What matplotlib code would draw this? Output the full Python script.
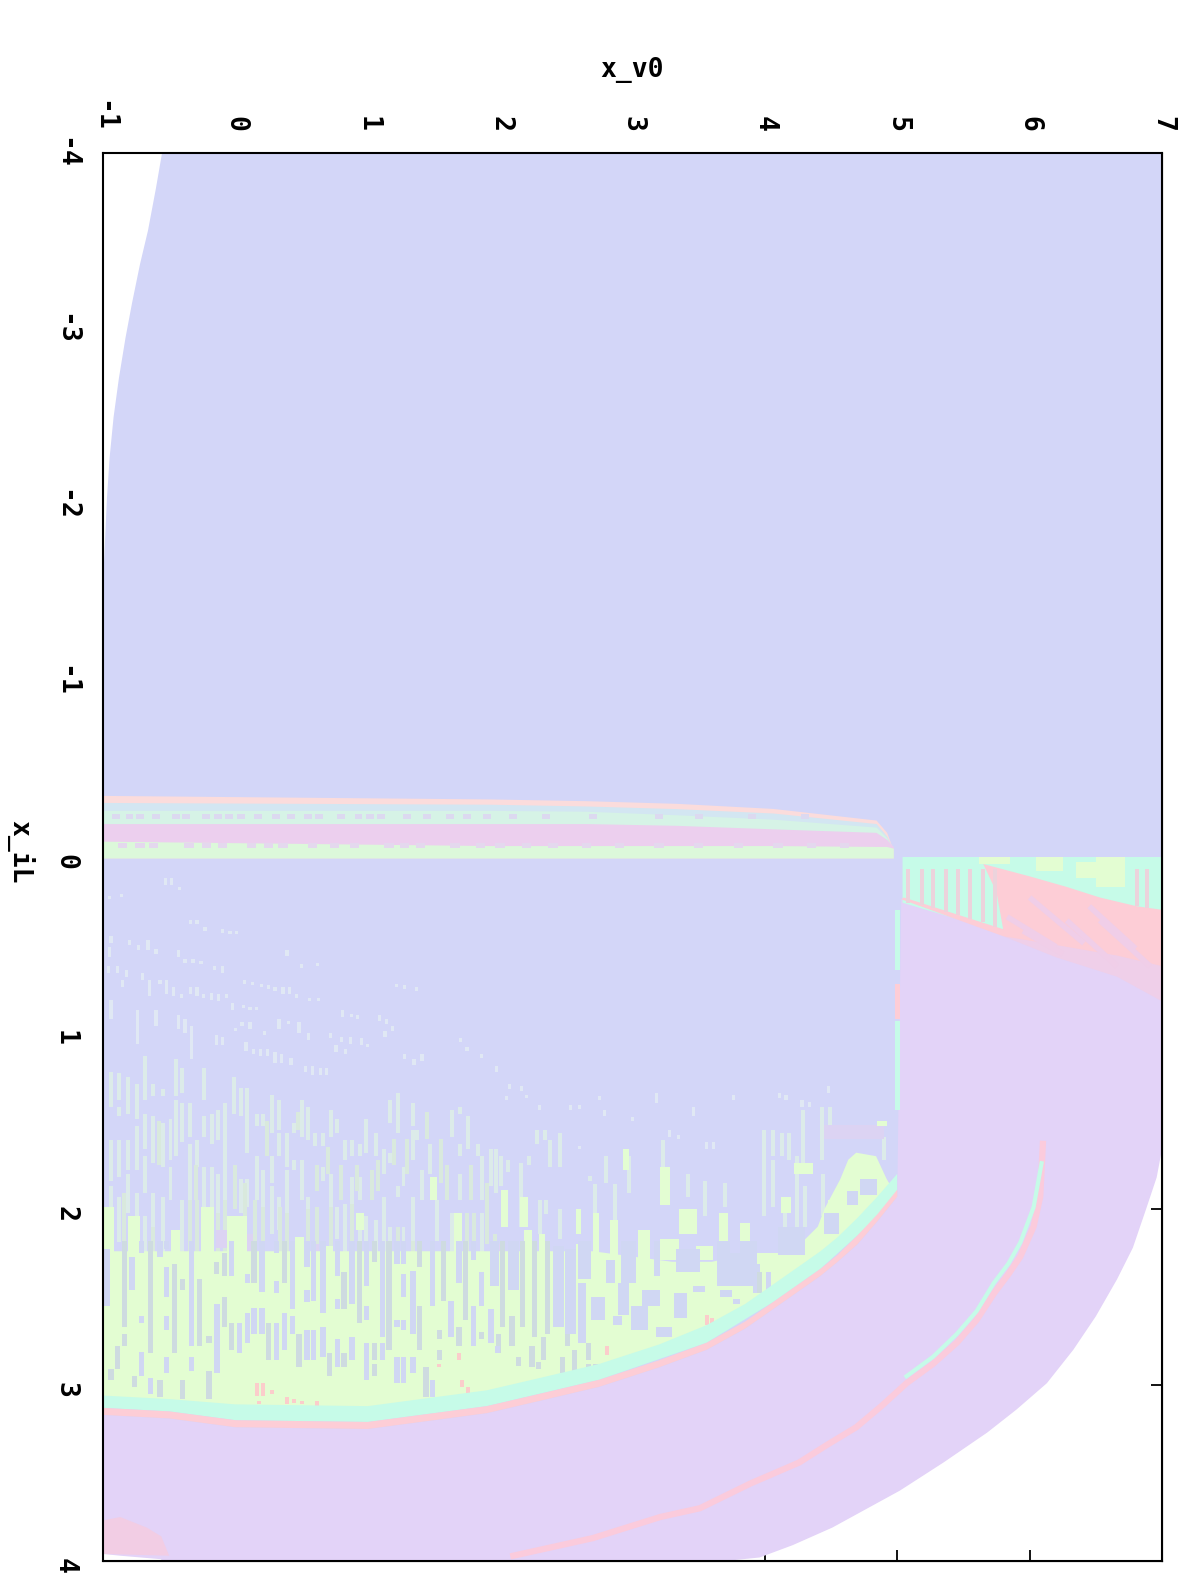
import matplotlib
matplotlib.use("Agg")
import matplotlib.pyplot as plt
from matplotlib.transforms import ScaledTranslation

# axis values
v_ticks = [-1, 0, 1, 2, 3, 4, 5, 6, 7]
v_labels = ['-1', '0', '1', '2', '3', '4', '5', '6', '7']
il_ticks = [-4, -3, -2, -1, 0, 1, 2, 3, 4]
il_labels = ['-4', '-3', '-2', '-1', '0', '1', '2', '3', '4']
bottom_ticks = [4, 5, 6]
right_ticks = [2, 3]

# region outlines, (x_v0, x_iL)
blue_region = [(-0.554, -4), (-0.6, -3.8), (-0.66, -3.56), (-0.72, -3.37), (-0.78, -3.15), (-0.83, -2.95),
               (-0.88, -2.72), (-0.92, -2.5), (-0.95, -2.27), (-0.97, -2.04), (-0.995, -1.63),
               (-1, -1.4), (-1, 3.3), (5.1, 3.3), (7, 0.5), (7, -4)]
purple_region = [(7, 1.66), (6.96, 1.82), (6.88, 2.0), (6.78, 2.22), (6.66, 2.40), (6.5, 2.61), (6.33, 2.80), (6.13, 2.99),
                 (5.90, 3.14), (5.68, 3.27), (5.35, 3.44), (5.02, 3.6), (4.51, 3.81), (4.21, 3.91),
                 (3.96, 3.98), (3.7, 4), (-0.56, 4), (-0.56, 3.99), (-0.87, 3.97), (-1, 3.96), (-1, 3.17),
                 (-0.5, 3.19), (0, 3.24), (1.0, 3.25), (1.3, 3.22), (1.9, 3.16), (2.3, 3.09), (2.75, 3.01), (3.2, 2.9),
                 (3.56, 2.80), (3.85, 2.68), (4.06, 2.57), (4.25, 2.47), (4.42, 2.38), (4.55, 2.3), (4.7, 2.2), (4.85, 2.07),
                 (5.0, 1.93), (5.03, 0.24), (5.8, 0.42), (6.0, 0.11), (7, 0.3)]
pink_edge = [(-1, 3.13), (-0.5, 3.15), (0, 3.20), (1.0, 3.21), (1.3, 3.18), (1.9, 3.12), (2.3, 3.05), (2.75, 2.97), (3.2, 2.86),
             (3.56, 2.76), (3.85, 2.64), (4.06, 2.53), (4.25, 2.43), (4.42, 2.34), (4.55, 2.26), (4.7, 2.15), (4.85, 2.03),
             (5.0, 1.89), (5.0, 1.93), (4.85, 2.07), (4.7, 2.2), (4.55, 2.3), (4.42, 2.38), (4.25, 2.47), (4.06, 2.57), (3.85, 2.68),
             (3.56, 2.80), (3.2, 2.9), (2.75, 3.01), (2.3, 3.09), (1.9, 3.16), (1.3, 3.22), (1.0, 3.25), (0, 3.24), (-0.5, 3.19), (-1, 3.17)]
mint_edge = [(-1, 3.06), (-0.5, 3.08), (0, 3.11), (1.0, 3.12), (1.3, 3.09), (1.9, 3.03), (2.3, 2.96), (2.75, 2.88), (3.2, 2.77),
             (3.56, 2.66), (3.85, 2.54), (4.06, 2.43), (4.25, 2.33), (4.42, 2.24), (4.55, 2.16), (4.7, 2.05), (4.85, 1.93),
             (5.0, 1.80), (5.0, 1.93), (4.7, 2.15), (4.42, 2.34), (4.06, 2.53), (3.56, 2.76), (2.75, 2.97), (1.9, 3.12), (1.3, 3.18),
             (1.0, 3.21), (0, 3.20), (-0.5, 3.15), (-1, 3.13)]
green_main = [(-1, 2.24), (0, 2.24), (1, 2.24), (2, 2.24), (2.7, 2.24), (3.3, 2.3), (3.6, 2.3), (3.9, 2.25), (4.2, 2.25),
              (4.4, 2.1), (4.45, 2.0), (4.57, 1.83), (4.63, 1.72), (4.69, 1.68), (4.84, 1.70), (4.92, 1.83), (5.0, 1.93), (4.42, 2.3),
              (3.56, 2.7), (2.75, 2.9), (1.9, 3.05), (1.0, 3.14), (0, 3.13), (-1, 3.08)]
pink_blob = [(-1, 3.77), (-0.87, 3.75), (-0.67, 3.81), (-0.56, 3.86), (-0.5, 3.97), (-1, 3.96)]

# right hand wedge above the purple
mint_wedge = [(5.04, 0), (7, 0), (7, 0.32), (6.0, 0.2), (5.8, 0.43), (5.04, 0.26)]
pink_fade = [(5.8, 0.45), (6.2, 0.57), (6.66, 0.68), (7, 0.82), (7, 0.5), (6.2, 0.4)]
pink_wedge = [(5.03, 0.24), (5.8, 0.45), (6.2, 0.50), (6.66, 0.56), (7, 0.62), (7, 0.30), (6.81, 0.28), (6.53, 0.23),
              (6.28, 0.17), (6.0, 0.11), (5.65, 0.04), (5.75, 0.2), (5.8, 0.41), (5.05, 0.23)]
wedge_pink_strips_v = [5.08, 5.19, 5.27, 5.37, 5.46, 5.55, 5.65, 5.74, 6.81, 6.89]
wedge_pink_strips_end = [0.26, 0.27, 0.29, 0.31, 0.33, 0.35, 0.37, 0.40, 0.28, 0.29]
wedge_green_blocks = [(5.62, 5.85, 0.0, 0.04), (6.05, 6.25, 0.0, 0.08), (6.5, 6.72, 0.0, 0.17), (6.35, 6.5, 0.03, 0.12)]
wedge_diagonals = [[(5.83, 0.34), (6.2, 0.51)], [(6.0, 0.23), (6.41, 0.49)], [(6.28, 0.36), (6.66, 0.62)],
                   [(6.53, 0.36), (6.91, 0.62)], [(5.95, 0.42), (6.25, 0.55)], [(6.45, 0.28), (6.8, 0.52)]]

# thin strip along x_v0 = 5
edge_mint = [(0.30, 0.64), (0.93, 1.44)]
edge_pink = [(0.72, 0.92)]

# thin arc in the purple
arc_pink = [(2.1, 3.97), (2.7, 3.87), (3.21, 3.75), (3.51, 3.70), (3.89, 3.56), (4.26, 3.44), (4.47, 3.34), (4.69, 3.24),
            (4.88, 3.12), (5.07, 2.99), (5.27, 2.88), (5.45, 2.76), (5.6, 2.63), (5.73, 2.48), (5.84, 2.37), (5.93, 2.27),
            (6.03, 2.10), (6.08, 1.93), (6.10, 1.63)]
arc_mint = [(5.07, 2.95), (5.27, 2.84), (5.45, 2.71), (5.6, 2.58), (5.73, 2.42), (5.84, 2.31), (5.93, 2.19), (6.03, 1.99), (6.09, 1.74)]

# horizontal band near x_iL = 0
band_v = [-1, 1.92, 2.65, 3.33, 4.06, 4.84, 4.92, 4.97]
band_pink_top = [-0.35, -0.33, -0.32, -0.305, -0.276, -0.21, -0.14, -0.04]
band_mint_top = [-0.31, -0.30, -0.29, -0.275, -0.25, -0.19, -0.12, -0.04]
band_green_top = [-0.265, -0.265, -0.26, -0.24, -0.215, -0.17, -0.11, -0.05]
band_purple_top = [-0.19, -0.19, -0.19, -0.18, -0.16, -0.14, -0.10, -0.06]
band_green2_top = [-0.09, -0.065, -0.065, -0.065, -0.065, -0.06, -0.06, -0.05]
band_bottom = [0.005, 0.005, 0.005, 0.005, 0.005, 0.005, 0.005, 0.005]
band_gap_v = [-0.9, -0.8, -0.72, -0.6, -0.45, -0.37, -0.22, -0.13, -0.05, 0.04, 0.17, 0.31, 0.42, 0.55, 0.63, 0.8, 0.93, 1.02, 1.1,
              1.3, 1.45, 1.62, 1.75, 1.9, 2.1, 2.35, 2.7, 3.2, 3.5, 3.9, 4.3]
band_low_gap_v = [-0.85, -0.72, -0.62, -0.35, -0.22, -0.1, 0.12, 0.25, 0.36, 0.58, 0.75, 0.9, 1.16, 1.28, 1.4, 1.66, 1.85, 2.0, 2.2,
                  2.4, 2.65, 2.9, 3.2, 3.5, 3.8, 4.1, 4.35, 4.6]

# streaks, (x_v0, x_iL start, x_iL end)
pale_streaks = [
    (-.94, 1.22, 1.42), (-.94, 1.61, 1.84), (-.94, 1.87, 1.99), (-.88, 1.23, 1.38), (-.88, 1.42, 1.47), (-.88, 1.61, 1.82),
    (-.88, 1.93, 2.19), (-.81, 1.25, 1.46), (-.81, 1.61, 1.78), (-.81, 1.80, 2.02), (-.74, 1.29, 1.49), (-.74, 1.53, 1.78),
    (-.74, 1.91, 2.04), (-.68, 1.13, 1.38), (-.68, 1.46, 1.66), (-.68, 1.70, 1.91), (-.68, 2.04, 2.29), (-.62, 1.29, 1.36),
    (-.62, 1.47, 1.74), (-.62, 1.91, 2.10), (-.55, 1.32, 1.36), (-.55, 1.51, 1.76), (-.55, 1.93, 2.29), (-.49, 1.49, 1.72),
    (-.49, 1.76, 1.95), (-.45, 1.15, 1.36), (-.45, 1.38, 1.70), (-.40, 1.20, 1.34), (-.40, 1.40, 1.62), (-.40, 1.95, 2.29),
    (-.34, 1.40, 1.59), (-.34, 1.63, 1.95), (-.29, 1.61, 1.76), (-.24, 1.20, 1.38), (-.24, 1.47, 1.59), (-.24, 1.76, 1.99),
    (-.18, 1.46, 1.63), (-.18, 1.76, 1.99), (-.13, 1.44, 1.61), (-.13, 1.80, 2.02), (-.08, 1.40, 1.66), (-.08, 1.66, 1.95),
    (-.01, 1.25, 1.46), (.04, 1.31, 1.47), (.04, 1.83, 2.02), (.09, 1.31, 1.49), (.09, 1.49, 1.68), (.09, 1.83, 1.99),
    (.16, 1.46, 1.53), (.16, 1.70, 1.95), (.21, 1.46, 1.53), (.21, 1.78, 1.99), (.28, 1.35, 1.57), (.28, 1.70, 1.85),
    (.28, 1.87, 2.14), (.33, 1.38, 1.55), (.33, 1.57, 1.70), (.33, 1.93, 2.12), (.39, 1.57, 1.76), (.39, 1.78, 2.02),
    (.44, 1.51, 1.57), (.44, 1.72, 1.78), (.50, 1.38, 1.59), (.50, 1.72, 1.95), (.55, 1.42, 1.61), (.55, 1.93, 2.14),
    (.60, 1.57, 1.64), (.66, 1.57, 1.64), (.66, 1.76, 1.84), (.72, 1.44, 1.59), (.72, 1.80, 1.99), (.77, 1.49, 1.57),
    (.77, 1.99, 2.17), (.83, 1.61, 1.72), (.83, 1.97, 2.29), (.88, 1.61, 1.70), (.88, 1.82, 1.97), (.94, 1.63, 1.70),
    (.94, 1.82, 1.95), (.94, 2.02, 2.29), (.99, 1.49, 1.68), (.99, 2.04, 2.29), (1.06, 1.57, 1.70), (1.06, 2.06, 2.29),
    (1.12, 1.66, 1.80), (1.12, 1.93, 2.29), (1.17, 1.38, 1.51), (1.17, 1.68, 1.74), (1.17, 2.10, 2.29), (1.23, 1.34, 1.57),
    (1.23, 1.87, 1.93), (1.27, 1.76, 1.87), (1.27, 2.10, 2.29), (1.34, 1.40, 1.53), (1.34, 1.55, 1.72), (1.34, 1.93, 2.18),
    (1.37, 1.55, 1.61), (1.41, 1.78, 1.95), (1.47, 1.63, 1.80), (1.52, 1.95, 2.18), (1.64, 1.44, 1.59), (1.64, 2.02, 2.29),
    (1.70, 1.42, 1.46), (1.70, 1.63, 1.70), (1.70, 1.80, 1.95), (1.76, 1.47, 1.66), (1.83, 1.63, 1.70), (1.86, 1.70, 1.95),
    (1.86, 2.02, 2.29), (1.93, 1.66, 1.87),
    # right of x_v0 = 2
    (1.97, 1.66, 1.91), (2.01, 1.70, 1.87), (2.06, 1.72, 1.79), (2.16, 1.74, 2.10), (2.22, 1.70, 1.75), (2.28, 1.55, 1.63),
    (2.34, 1.55, 1.61), (2.38, 1.61, 1.76), (2.45, 1.57, 1.76), (2.30, 1.95, 2.14), (2.35, 1.95, 2.03), (2.45, 2.0, 2.17),
    (2.68, 1.81, 1.84), (2.80, 1.70, 1.85), (2.87, 1.86, 2.29), (2.72, 1.86, 2.29), (2.97, 1.70, 1.91), (3.23, 1.61, 1.76),
    (3.42, 1.80, 1.93), (3.55, 1.84, 2.04), (3.70, 1.85, 1.99), (3.99, 1.55, 2.04), (4.06, 1.55, 1.70), (4.06, 1.72, 1.99),
    (4.13, 1.57, 1.70), (4.18, 1.57, 1.72), (4.15, 1.95, 2.14), (4.24, 1.70, 2.14), (4.29, 1.44, 1.78), (4.30, 1.87, 2.10),
    (4.43, 1.42, 1.72), (4.44, 1.80, 2.04), (4.49, 1.42, 1.57), (4.90, 1.59, 1.72),
]
low_streaks = [
    (-.84, 1.91, 2.29), (-.74, 2.06, 2.29), (-.62, 2.10, 2.29), (-.34, 1.95, 2.29), (-.29, 1.95, 2.29), (-.13, 2.02, 2.29),
    (-.08, 1.95, 2.29), (.15, 1.95, 2.29), (.21, 1.99, 2.29), (.34, 1.99, 2.29), (.39, 2.02, 2.29), (.55, 2.0, 2.29),
    (.62, 1.99, 2.29), (.72, 1.99, 2.29), (.88, 1.97, 2.29), (1.23, 2.10, 2.29), (1.34, 2.18, 2.29), (1.75, 2.02, 2.29),
    (1.80, 2.02, 2.29), (1.96, 2.14, 2.29), (-.58, 1.5, 1.75), (-.30, 1.75, 1.95), (0.0, 1.75, 2.0), (.07, 1.85, 2.05),
    (.24, 1.5, 1.7), (.47, 1.45, 1.55), (.62, 1.75, 1.9), (.7, 1.65, 1.8), (.8, 1.75, 1.95), (.92, 1.75, 1.9), (1.03, 1.78, 1.95),
    (1.08, 1.72, 1.9), (1.2, 1.6, 1.75), (1.3, 1.6, 1.8), (1.45, 1.45, 1.6), (1.55, 1.6, 1.85), (1.6, 1.75, 1.95), (1.78, 1.75, 1.95),
    (1.9, 1.85, 2.2),
]
pale_dots = [
    (-.94, .81, .92), (-.74, .87, 1.06), (-.60, .87, .96), (-.43, .90, .98), (-.38, .92, 1.0), (-.33, .96, 1.15),
    (-.14, 1.01, 1.07), (-.10, 1.02, 1.07), (.08, 1.05, 1.10), (.14, 1.09, 1.12), (.19, 1.09, 1.13), (.24, 1.09, 1.13),
    (.30, 1.11, 1.17), (.35, 1.12, 1.17), (.42, 1.14, 1.18), (.53, 1.19, 1.22), (.58, 1.19, 1.24), (.64, 1.20, 1.24),
    (.69, 1.20, 1.24), (-.53, .12, .16), (-.48, .12, .16), (-.42, .17, .19), (-.95, .22, .24), (-.86, .21, .23),
    (-.34, .36, .38), (-.29, .36, .38), (-.23, .40, .42), (-.10, .41, .43), (-.04, .42, .44), (.01, .42, .44),
    (-.94, .45, .49), (-.80, .47, .50), (-.66, .47, .53), (-.73, .50, .53), (-.60, .52, .55), (-.95, .51, .57),
    (-.43, .53, .57), (-.38, .58, .60), (-.32, .58, .60), (-.26, .59, .61), (-.16, .62, .64), (-.10, .62, .66), (.39, .53, .56),
    (.50, .61, .63), (.62, .60, .62), (-.96, .62, .66), (-.89, .62, .66), (-.82, .64, .68), (-.70, .66, .70), (-.85, .70, .74),
    (-.65, .70, .79), (-.57, .70, .72), (-.52, .70, .78), (-.47, .74, .79), (-.41, .78, .80), (-.34, .74, .78), (-.29, .74, .79),
    (-.24, .78, .80), (-.18, .77, .81), (-.13, .78, .82), (-.07, .78, .80), (.07, .70, .72), (.13, .71, .73), (.20, .72, .74),
    (.25, .73, .75), (.30, .74, .76), (.36, .74, .78), (.41, .74, .78), (.46, .78, .80), (.56, .80, .82), (.63, .80, .82),
    (1.22, .72, .74), (1.28, .73, .75), (1.37, .74, .76), (-.02, .83, .87), (.06, .84, .86), (.11, .85, .87), (.16, .85, .87),
    (.81, .87, .91), (.88, .89, .91), (.92, .90, .92), (1.09, .90, .93), (1.14, .92, .95), (1.19, .96, .99), (1.13, .99, 1.02),
    (.0, .97, .99), (.05, .94, .96), (.11, .94, .98), (.22, .99, 1.01), (.33, .92, .98), (.40, .93, .95), (.48, .94, 1.0),
    (.55, 1.0, 1.04), (.72, 1.0, 1.03), (.80, 1.02, 1.05), (.87, 1.02, 1.06), (.95, 1.03, 1.07), (1.0, 1.06, 1.08),
    (.76, 1.07, 1.11), (.83, 1.09, 1.12), (1.28, 1.12, 1.15), (1.35, 1.15, 1.18), (1.41, 1.12, 1.16), (1.70, 1.03, 1.05),
    (1.75, 1.08, 1.10), (1.86, 1.12, 1.14), (1.97, 1.19, 1.22), (2.07, 1.29, 1.32), (2.05, 1.36, 1.38), (2.16, 1.30, 1.33),
    (2.20, 1.35, 1.37), (2.30, 1.41, 1.44), (2.53, 1.41, 1.44), (2.60, 1.41, 1.43), (2.75, 1.36, 1.38), (2.79, 1.44, 1.47),
    (3.18, 1.34, 1.40), (3.46, 1.42, 1.47), (3.0, 1.48, 1.50), (3.28, 1.55, 1.59), (3.35, 1.58, 1.60), (2.60, 1.64, 1.66),
    (3.76, 1.35, 1.38), (4.11, 1.34, 1.37), (4.16, 1.35, 1.38), (4.28, 1.38, 1.42), (4.34, 1.39, 1.42), (4.48, 1.30, 1.34),
    (3.56, 1.62, 1.66), (3.61, 1.62, 1.66),
]
grey_streaks = [
    (-.94, 2.91, 2.97), (-.89, 2.78, 2.91), (-.84, 2.18, 2.67), (-.84, 2.71, 2.78), (-.76, 2.95, 3.01), (-.64, 2.18, 2.82),
    (-.57, 2.97, 3.07), (-.46, 2.31, 2.82), (-.40, 2.40, 2.46), (-.40, 2.97, 3.08), (-.27, 2.40, 2.78), (-.20, 2.92, 3.08),
    (-.20, 2.72, 2.76), (-.14, 2.30, 2.37), (-.08, 2.25, 2.38), (-.08, 2.50, 2.67), (-.03, 2.65, 2.80), (.14, 2.18, 2.42),
    (.25, 2.65, 2.86), (.37, 2.18, 2.42), (.48, 2.71, 2.90), (.71, 2.82, 2.95), (.82, 2.36, 2.57), (.82, 2.82, 2.90),
    (.94, 2.18, 2.65), (1.05, 2.18, 2.30), (1.05, 2.76, 2.86), (1.05, 2.88, 2.95), (1.16, 2.18, 2.80), (1.39, 2.55, 2.80),
    (1.39, 2.18, 2.33), (1.44, 2.90, 3.07), (1.54, 2.69, 2.74), (1.54, 2.80, 2.86), (1.57, 2.18, 2.52), (1.69, 2.67, 2.78),
    (1.74, 2.18, 2.63), (1.86, 2.70, 2.74), (2.02, 2.18, 2.67), (1.99, 2.71, 2.82), (2.09, 2.61, 2.78), (2.17, 2.18, 2.67),
    (2.26, 2.18, 2.73), (2.36, 2.18, 2.71), (2.33, 2.73, 2.86), (2.51, 2.71, 2.78), (2.24, 2.78, 2.90), (2.14, 2.84, 2.89),
    (2.29, 2.87, 2.91), (2.47, 2.84, 2.93), (2.56, 2.80, 2.92), (2.67, 2.76, 2.86), (2.67, 2.88, 2.91), (2.72, 2.88, 2.91),
    (3.96, 2.36, 2.48),
]
blue_streaks = [
    (-.97, 2.23, 2.55), (-.78, 2.27, 2.46), (-.71, 2.18, 2.25), (-.71, 2.61, 2.65), (-.71, 2.81, 2.95), (-.64, 2.96, 3.05),
    (-.57, 2.18, 2.27), (-.52, 2.18, 2.23), (-.52, 2.33, 2.50), (-.52, 2.61, 2.69), (-.52, 2.84, 2.93), (-.33, 2.18, 2.78),
    (-.33, 2.84, 2.92), (-.14, 2.54, 2.93), (-.03, 2.18, 2.38), (.03, 2.65, 2.82), (.09, 2.37, 2.42), (.09, 2.59, 2.76),
    (.14, 2.56, 2.71), (.20, 2.18, 2.47), (.20, 2.56, 2.71), (.31, 2.18, 2.25), (.31, 2.41, 2.48), (.31, 2.65, 2.86),
    (.37, 2.59, 2.80), (.43, 2.18, 2.57), (.43, 2.61, 2.71), (.54, 2.46, 2.53), (.54, 2.69, 2.86), (.54, 2.18, 2.33),
    (.59, 2.18, 2.52), (.59, 2.69, 2.86), (.66, 2.18, 2.59), (.66, 2.67, 2.84), (.77, 2.51, 2.57), (.77, 2.18, 2.38),
    (.77, 2.74, 2.90), (.88, 2.18, 2.54), (.88, 2.73, 2.86), (.99, 2.18, 2.44), (.99, 2.55, 2.63), (.99, 2.76, 2.97),
    (1.11, 2.18, 2.73), (1.11, 2.76, 2.86), (1.22, 2.18, 2.31), (1.22, 2.63, 2.67), (1.22, 2.84, 2.99), (1.27, 2.18, 2.31),
    (1.27, 2.37, 2.50), (1.27, 2.63, 2.69), (1.27, 2.84, 2.99), (1.34, 2.35, 2.71), (1.34, 2.84, 2.93), (1.49, 2.18, 2.55),
    (1.49, 2.97, 3.07), (1.63, 2.52, 2.73), (1.69, 2.18, 2.42), (1.80, 2.18, 2.29), (1.80, 2.55, 2.78), (1.86, 2.36, 2.55),
    (1.93, 2.57, 2.76), (1.98, 2.78, 2.82), (2.62, 2.42, 2.76),
]
# wider patches, (x_v0 start, x_v0 end, x_iL start, x_iL end)
blue_blocks = [
    (1.92, 1.99, 2.18, 2.44), (2.06, 2.14, 2.18, 2.46), (2.40, 2.48, 2.21, 2.67), (2.49, 2.57, 2.23, 2.71), (2.59, 2.69, 2.18, 2.40),
    (2.59, 2.65, 2.42, 2.76), (2.69, 2.79, 2.50, 2.63), (2.80, 2.87, 2.29, 2.42), (2.85, 2.92, 2.61, 2.66), (2.89, 2.97, 2.42, 2.60),
    (2.91, 3.03, 2.18, 2.42), (2.99, 3.12, 2.55, 2.69), (3.07, 3.21, 2.46, 2.55), (3.16, 3.21, 2.18, 2.38), (3.18, 3.30, 2.67, 2.73),
    (3.31, 3.41, 2.48, 2.62), (3.33, 3.51, 2.23, 2.36), (3.64, 3.80, 2.31, 2.42), (3.46, 3.55, 2.44, 2.47), (3.76, 3.81, 2.51, 2.54),
    (3.91, 3.96, 2.31, 2.48), (4.01, 4.05, 2.36, 2.48), (3.66, 3.75, 2.46, 2.50), (3.81, 3.94, 2.18, 2.29), (3.64, 3.74, 2.18, 2.29),
    (3.64, 3.94, 2.25, 2.44), (4.72, 4.85, 1.83, 1.92), (4.10, 4.30, 2.10, 2.26), (4.45, 4.56, 2.02, 2.14), (4.62, 4.70, 1.90, 1.98),
]
green_blocks = [
    (3.35, 3.49, 2.0, 2.14), (3.48, 3.61, 2.21, 2.29), (3.65, 3.72, 2.02, 2.29), (3.81, 3.89, 2.08, 2.29), (3.04, 3.13, 2.12, 2.29),
    (3.21, 3.35, 2.17, 2.29), (2.70, 2.75, 2.02, 2.29), (2.83, 2.89, 2.06, 2.29), (2.57, 2.63, 2.2, 2.29), (2.29, 2.34, 2.14, 2.29),
    (2.18, 2.24, 2.12, 2.29), (2.01, 2.06, 1.89, 2.10), (2.15, 2.21, 1.93, 2.10), (-1, -.92, 1.99, 2.29), (-.81, -.72, 2.04, 2.29),
    (-.26, -.16, 1.99, 2.29), (-.06, .09, 2.04, 2.29), (-.49, -.42, 2.12, 2.29), (.45, .52, 2.16, 2.29), (.68, .74, 2.21, 2.29),
    (.91, .97, 2.02, 2.12), (1.47, 1.52, 1.82, 1.95), (1.65, 1.71, 2.02, 2.29), (3.21, 3.28, 1.76, 1.98), (2.93, 2.97, 1.66, 1.78),
    (2.57, 2.61, 2.0, 2.14), (4.12, 4.2, 1.93, 2.02), (4.22, 4.36, 1.74, 1.80), (4.85, 4.92, 1.50, 1.53), (4.48, 4.56, 1.95, 2.10),
]
pink_specks = [
    (.16, 2.99, 3.06), (.21, 2.99, 3.06), (.28, 3.03, 3.05), (.39, 3.07, 3.11), (.44, 3.08, 3.10), (.50, 3.09, 3.11), (.62, 3.09, 3.12),
    (.18, 3.09, 3.11), (1.71, 2.97, 3.01), (1.76, 3.01, 3.05), (1.54, 2.88, 2.90), (1.69, 2.82, 2.86), (2.81, 2.78, 2.83), (2.94, 2.84, 2.89),
    (3.56, 2.60, 2.66), (3.6, 2.62, 2.67),
]
lilac_blocks = [(-.15, -.05, 2.12, 2.22), (.08, .13, 2.14, 2.24), (.58, .63, 2.2, 2.29), (1.93, 2.0, 2.2, 2.29), (4.45, 4.9, 1.52, 1.60)]

BLUE = '#d3d6f8'
PURPLE = '#e3d3f8'
PINK = '#fdcdd6'
MINT = '#c6fbe8'
GREEN = '#e3fdd2'
GREY = '#cedbe0'
PALE = '#dcebe9'
FONT = dict(fontfamily='DejaVu Sans Mono', fontweight='bold', fontsize=19)


def fill_shape(ax, points, color):
    ax.fill([p[0] for p in points], [p[1] for p in points], color=color, linewidth=0)


def draw_streaks(ax, streaks, width, color):
    ax.bar([s[0] for s in streaks], [s[2] - s[1] for s in streaks], bottom=[s[1] for s in streaks],
           width=width, color=color, linewidth=0)


def draw_blocks(ax, blocks, color):
    ax.bar([b[0] for b in blocks], [b[3] - b[2] for b in blocks], bottom=[b[2] for b in blocks],
           width=[b[1] - b[0] for b in blocks], align='edge', color=color, linewidth=0)


fig = plt.figure(figsize=(11.96, 15.95), dpi=100)
ax = fig.add_axes([103 / 1196, 1 - 1561 / 1595, (1162 - 103) / 1196, (1561 - 153) / 1595])

fill_shape(ax, blue_region, BLUE)

# band near zero
ax.fill_between(band_v, band_pink_top, band_bottom, color='#fbdcdc', linewidth=0)
ax.fill_between(band_v, band_mint_top, band_bottom, color='#d3e6f2', linewidth=0)
ax.fill_between(band_v, band_green_top, band_bottom, color='#d6f3e6', linewidth=0)
ax.fill_between(band_v, band_purple_top, band_bottom, color='#eccfee', linewidth=0)
ax.fill_between(band_v, band_green2_top, band_bottom, color='#dcf8da', linewidth=0)
ax.bar(band_gap_v, 0.03, bottom=-0.245, width=0.06, color='#dcd9f0', linewidth=0)
ax.bar(band_low_gap_v, 0.03, bottom=-0.08, width=0.07, color='#e4d8ee', linewidth=0)

# streaks on the blue part
draw_streaks(ax, pale_streaks, 0.03, PALE)
draw_streaks(ax, low_streaks, 0.03, '#d9e9dd')
draw_streaks(ax, pale_dots, 0.024, '#e0e8f4')
draw_blocks(ax, lilac_blocks, '#dcd3f3')

# green zone with its streaks
fill_shape(ax, green_main, GREEN)
draw_blocks(ax, green_blocks, GREEN)
draw_blocks(ax, blue_blocks, '#d0d7f3')
draw_streaks(ax, grey_streaks, 0.04, GREY)
draw_streaks(ax, blue_streaks, 0.042, '#d0d7f3')
draw_streaks(ax, pink_specks, 0.03, '#fbcdcb')
fill_shape(ax, mint_edge, MINT)

# purple lobe
fill_shape(ax, purple_region, PURPLE)
fill_shape(ax, pink_edge, PINK)
fill_shape(ax, pink_blob, '#f2cde4')

# wedge at upper right
fill_shape(ax, mint_wedge, MINT)
draw_blocks(ax, wedge_green_blocks, GREEN)
fill_shape(ax, pink_fade, '#efcfe9')
fill_shape(ax, pink_wedge, PINK)
ax.bar(wedge_pink_strips_v, [e - 0.07 for e in wedge_pink_strips_end], bottom=0.07, width=0.03, color='#ecd3dc', linewidth=0)
for diag in wedge_diagonals:
    ax.plot([d[0] for d in diag], [d[1] for d in diag], color='#f0cee8', lw=4, solid_capstyle='butt')

for seg in edge_mint:
    ax.bar(5.0, seg[1] - seg[0], bottom=seg[0], width=0.04, color=MINT, linewidth=0)
for seg in edge_pink:
    ax.bar(5.0, seg[1] - seg[0], bottom=seg[0], width=0.04, color=PINK, linewidth=0)

ax.plot([p[0] for p in arc_pink], [p[1] for p in arc_pink], color='#fbcbdc', lw=4.5)
ax.plot([p[0] for p in arc_mint], [p[1] for p in arc_mint], color=MINT, lw=3)

ax.set_xlim(-1, 7)
ax.set_ylim(4, -4)

ax.xaxis.tick_top()
ax.xaxis.set_label_position('top')
ax.set_xticks(v_ticks)
ax.set_xticklabels(v_labels, rotation=-90, **FONT)
ax.set_yticks(il_ticks)
ax.set_yticklabels(il_labels, rotation=-90, va='center', **FONT)
ax.tick_params(axis='both', length=0)
ax.tick_params(axis='x', pad=15)
ax.tick_params(axis='y', pad=18)
ax.set_xlabel('x_v0', labelpad=17, **FONT)
ax.set_ylabel('x_iL', rotation=-90, va='center', y=0.5036, labelpad=23, **FONT)

# single digit labels sit a little lower than their ticks
nudge = ScaledTranslation(0, -5 / 100, fig.dpi_scale_trans)
for lbl in ax.get_yticklabels():
    if not lbl.get_text().startswith('-'):
        lbl.set_transform(lbl.get_transform() + nudge)

for side in ax.spines.values():
    side.set_linewidth(1.5)

sec_x = ax.secondary_xaxis('bottom')
sec_x.set_xticks(bottom_ticks)
sec_x.set_xticklabels([])
sec_x.tick_params(direction='in', length=8, width=1.3)
sec_y = ax.secondary_yaxis('right')
sec_y.set_yticks(right_ticks)
sec_y.set_yticklabels([])
sec_y.tick_params(direction='in', length=8, width=1.3)

fig.savefig('out.png', dpi=100)
